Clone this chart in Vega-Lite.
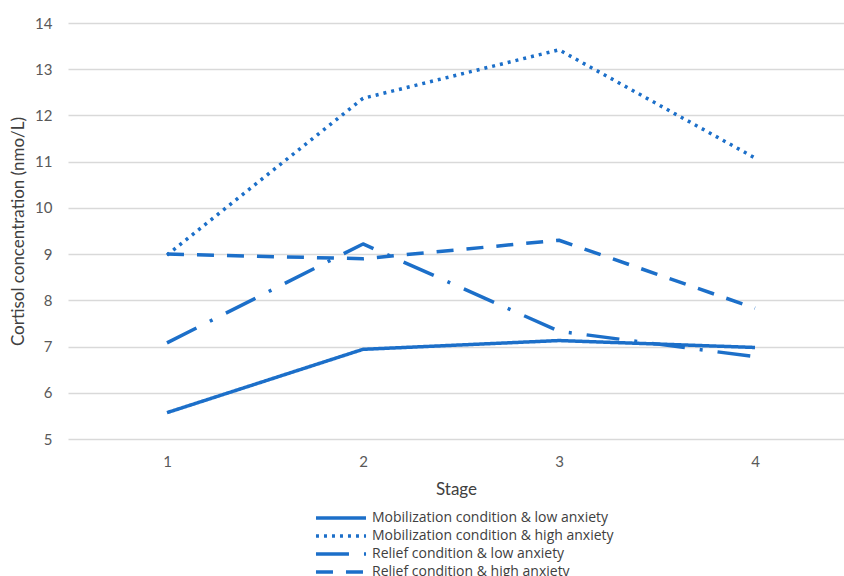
{
  "$schema": "https://vega.github.io/schema/vega-lite/v6.json",
  "width": 776,
  "height": 416,
  "autosize": {"type": "none"},
  "padding": {"left": 68, "top": 23, "right": 0, "bottom": 137},
  "background": "white",
  "config": {
    "view": {"stroke": null},
    "font": "Lato",
    "axis": {"labelFont": "Lato", "titleFont": "Lato", "labelColor": "#595959", "titleColor": "#404040", "titleFontWeight": "normal", "labelFontSize": 15, "titleFontSize": 17}
  },
  "data": {
    "values": [
      {"stage": 1, "series": "Mobilization condition & low anxiety", "cortisol": 5.57},
      {"stage": 2, "series": "Mobilization condition & low anxiety", "cortisol": 6.94},
      {"stage": 3, "series": "Mobilization condition & low anxiety", "cortisol": 7.13},
      {"stage": 4, "series": "Mobilization condition & low anxiety", "cortisol": 6.98},
      {"stage": 1, "series": "Mobilization condition & high anxiety", "cortisol": 8.98},
      {"stage": 2, "series": "Mobilization condition & high anxiety", "cortisol": 12.37},
      {"stage": 3, "series": "Mobilization condition & high anxiety", "cortisol": 13.42},
      {"stage": 4, "series": "Mobilization condition & high anxiety", "cortisol": 11.08},
      {"stage": 1, "series": "Relief condition & low anxiety", "cortisol": 7.08},
      {"stage": 2, "series": "Relief condition & low anxiety", "cortisol": 9.22},
      {"stage": 3, "series": "Relief condition & low anxiety", "cortisol": 7.33},
      {"stage": 4, "series": "Relief condition & low anxiety", "cortisol": 6.78},
      {"stage": 1, "series": "Relief condition & high anxiety", "cortisol": 9.0},
      {"stage": 2, "series": "Relief condition & high anxiety", "cortisol": 8.9},
      {"stage": 3, "series": "Relief condition & high anxiety", "cortisol": 9.3},
      {"stage": 4, "series": "Relief condition & high anxiety", "cortisol": 7.83}
    ]
  },
  "mark": {"type": "line", "color": "#1c6fc9", "strokeWidth": 3.5, "strokeCap": "butt", "strokeJoin": "round"},
  "encoding": {
    "x": {
      "field": "stage", "type": "quantitative", "title": "Stage",
      "scale": {"domain": [0.495, 4.454], "nice": false, "zero": false},
      "axis": {"values": [1, 2, 3, 4], "format": "d", "grid": false, "domain": false, "ticks": false, "labelPadding": 15, "titlePadding": 12}
    },
    "y": {
      "field": "cortisol", "type": "quantitative", "title": "Cortisol concentration (nmo/L)",
      "scale": {"domain": [5, 14], "nice": false, "zero": false},
      "axis": {"values": [5, 6, 7, 8, 9, 10, 11, 12, 13, 14], "grid": true, "gridColor": "#d9d9d9", "gridWidth": 1.3, "domain": false, "ticks": false, "labelPadding": 16, "titlePadding": 7}
    },
    "strokeDash": {
      "field": "series", "type": "nominal",
      "scale": {
        "domain": ["Mobilization condition & low anxiety", "Mobilization condition & high anxiety", "Relief condition & low anxiety", "Relief condition & high anxiety"],
        "range": [[1, 0], [3, 5], [33, 15, 3, 15], [17, 13]]
      },
      "legend": {
        "title": null,
        "orient": "none",
        "legendX": 262,
        "legendY": 484,
        "symbolType": "M-2.78,0H2.78",
        "symbolSize": 324,
        "symbolStrokeWidth": 3.5,
        "symbolStrokeColor": "#1c6fc9",
        "symbolFillColor": "transparent",
        "labelFont": "Open Sans",
        "labelFontSize": 14,
        "labelColor": "#404040",
        "labelOffset": 20,
        "labelLimit": 500,
        "rowPadding": 0,
        "padding": 0
      }
    }
  }
}
